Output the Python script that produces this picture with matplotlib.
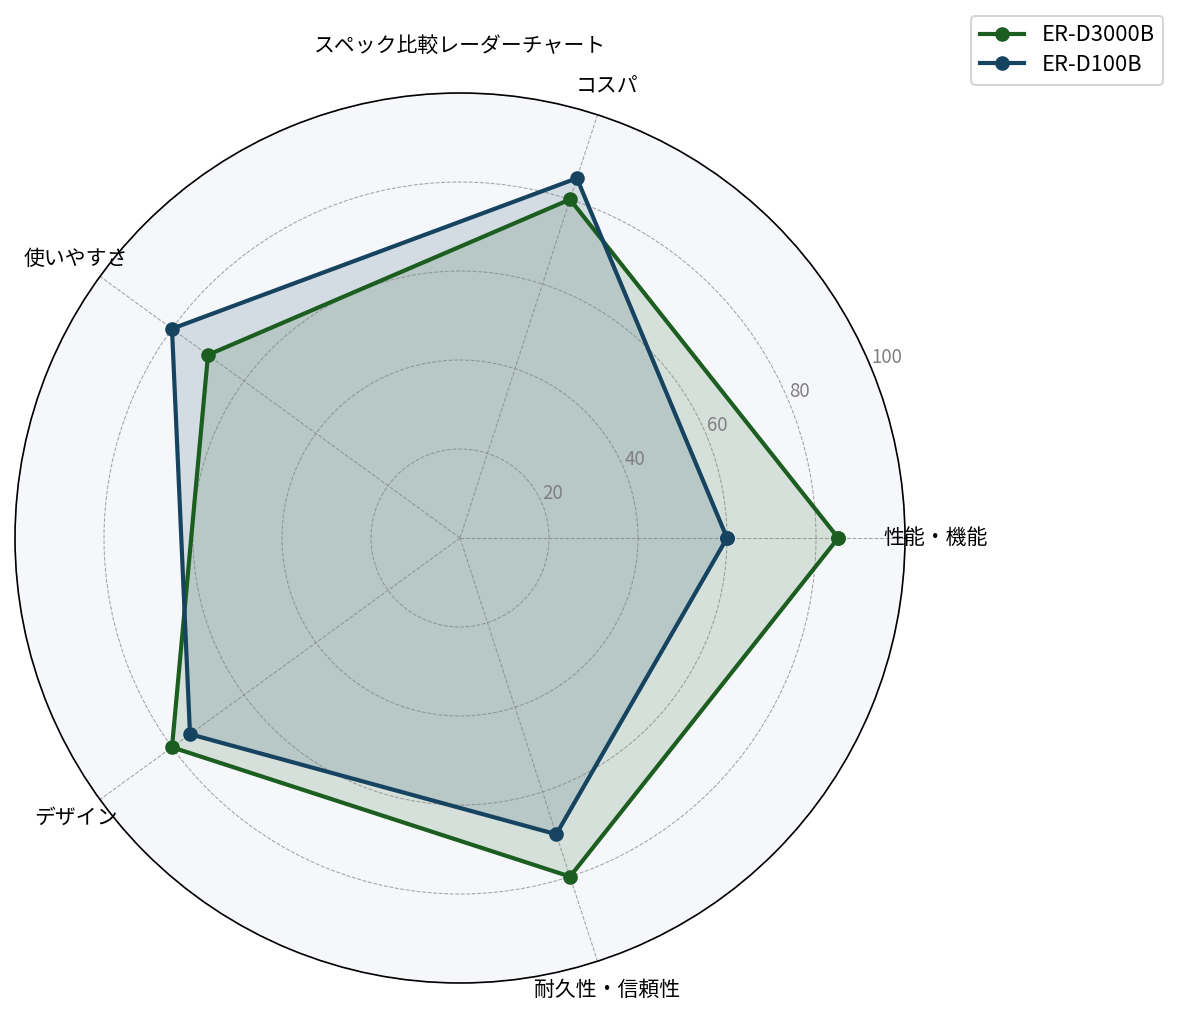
import numpy as np
import matplotlib
matplotlib.use("Agg")
import matplotlib.pyplot as plt

plt.rcParams['font.family'] = ['Noto Sans CJK JP', 'DejaVu Sans']

# data
categories = ['性能・機能', 'コスパ', '使いやすさ', 'デザイン', '耐久性・信頼性']
d3000b = [85, 80, 70, 80, 80]
d100b = [60, 85, 80, 75, 70]
series_names = ['ER-D3000B', 'ER-D100B']
colors = ['#1b5e20', '#154360']
r_ticks = [20, 40, 60, 80, 100]

n = len(categories)
angles = np.linspace(0, 2 * np.pi, n, endpoint=False).tolist()
angles_closed = angles + angles[:1]

fig = plt.figure(figsize=(1178 / 150, 1015 / 150), dpi=150)
ax = fig.add_axes([15 / 1178, 32 / 1015, 890 / 1178, 890 / 1015], projection='polar')
ax.set_facecolor('#f5f7fa')

for vals, name, c in zip([d3000b, d100b], series_names, colors):
    v = vals + vals[:1]
    ax.plot(angles_closed, v, color=c, linewidth=2, marker='o', markersize=6, label=name)
    ax.fill(angles_closed, v, color=c, alpha=0.15)

ax.set_ylim(0, 100)
ax.set_xticks(angles)
ax.set_xticklabels(categories, fontsize=10)
ax.tick_params(axis='x', pad=4)
ax.set_yticks(r_ticks)
ax.set_yticklabels([str(t) for t in r_ticks], fontsize=9, color='gray')
ax.set_rlabel_position(22.5)
ax.grid(True, linestyle='--', linewidth=0.5, color='gray', alpha=0.7)
ax.spines['polar'].set_linewidth(0.8)

ax.set_title('スペック比較レーダーチャート', fontsize=10, pad=19.5)
fig.legend(loc='upper right', bbox_to_anchor=(0.993, 0.991), fontsize=10.5,
           labelspacing=0.35, borderaxespad=0.3)

fig.savefig('out.png', dpi=150)
